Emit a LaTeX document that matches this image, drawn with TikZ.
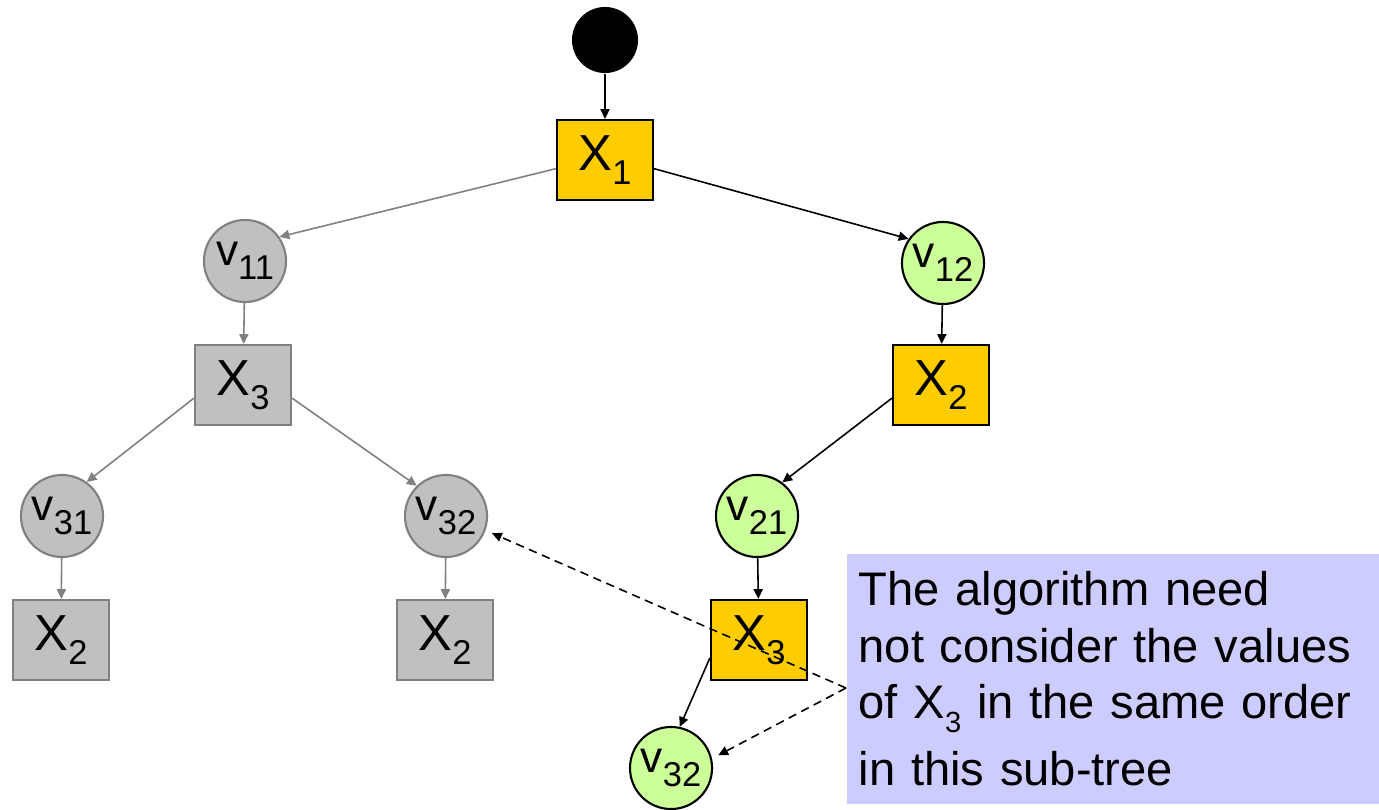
\documentclass[tikz,border=0pt]{standalone}
\usepackage{fontspec}
\setmainfont{Liberation Sans}
\usetikzlibrary{arrows.meta}

\definecolor{gold}{HTML}{FFCC00}
\definecolor{lgray}{HTML}{C0C0C0}
\definecolor{dgray}{HTML}{808080}
\definecolor{lgreen}{HTML}{CCFF99}
\definecolor{lavender}{HTML}{CCCCFF}

% lowered index, as in X_1 or v_11
\newcommand{\lowsub}[1]{\raisebox{-3.9pt}{\fontsize{9.8}{9.8}\selectfont #1}}
% smaller index inside running text
\newcommand{\textlowsub}[1]{\raisebox{-3.9pt}{\fontsize{8.3}{8.3}\selectfont #1}}

\begin{document}
\begin{tikzpicture}[x=0.01cm, y=-0.01cm,
    every node/.style={font=\fontsize{13.4}{16}\selectfont},
    varbox/.style={draw, rectangle, minimum width=0.96cm, minimum height=0.80cm, inner sep=0pt, line width=0.6pt,
        font=\fontsize{14.4}{16}\selectfont},
    valnode/.style={draw, circle, minimum size=0.82cm, inner sep=0pt, line width=0.6pt, font=\fontsize{12.6}{14}\selectfont},
    active/.style={fill=gold, draw=black},
    pruned/.style={fill=lgray, draw=dgray},
    chosen/.style={fill=lgreen, draw=black},
    link/.style={-{Triangle[length=2.8pt,width=2.6pt]}, line width=0.45pt, black},
    greylink/.style={link, dgray},
    hint/.style={link, dash pattern=on 2.4pt off 1.6pt, shorten >=2pt},
    note/.style={fill=lavender, anchor=north west, align=left, text width=5.09cm,
        inner xsep=0.12cm, minimum height=2.5cm}
]

    \useasboundingbox (0,0) rectangle (1379,809);

    % Root
    \node[circle, fill=black, minimum size=0.66cm, inner sep=0pt] (root) at (605,40) {};
    \node[varbox, active] (X1) at (605,160) {X\lowsub{1}};

    % Left sub-tree (grey)
    \node[valnode, pruned] (v11)  at (245,261) {v\lowsub{11}};
    \node[varbox, pruned]  (X3l)  at (243,385) {X\lowsub{3}};
    \node[valnode, pruned] (v31)  at (62,516)  {v\lowsub{31}};
    \node[valnode, pruned] (v32l) at (446,516) {v\lowsub{32}};
    \node[varbox, pruned]  (X2a)  at (61,640)  {X\lowsub{2}};
    \node[varbox, pruned]  (X2b)  at (445,640) {X\lowsub{2}};

    % Right sub-tree
    \node[valnode, chosen] (v12)  at (943,263) {v\lowsub{12}};
    \node[varbox, active]  (X2)   at (941,385) {X\lowsub{2}};
    \node[valnode, chosen] (v21)  at (757,516) {v\lowsub{21}};
    \node[varbox, active]  (X3r)  at (759,640) {X\lowsub{3}};
    \node[valnode, chosen] (v32r) at (671,768) {v\lowsub{32}};

    % Edges
    \draw[link]     (root) -- (X1);
    \draw[greylink] (X1.190) -- (v11.35);
    \draw[link]     (X1.-10) -- (v12.145);
    \draw[greylink] (v11) -- (X3l);
    \draw[greylink] (X3l.195) -- (v31.54);
    \draw[greylink] (X3l.-15) -- (v32l.134);
    \draw[greylink] (v31) -- (X2a);
    \draw[greylink] (v32l) -- (X2b);
    \draw[link]     (v12) -- (X2);
    \draw[link]     (X2.195) -- (v21.53);
    \draw[link]     (v21) -- (X3r);
    \draw[link]     (X3r.200) -- (v32r.78);

    % Comment box
    \node[note] (note) at (846,553) {The algorithm need\\not consider the values\\of X\textlowsub{3} in the same order\\[3pt]in this sub-tree};
    \coordinate (tip) at (846,688);

    \draw[hint] (tip) -- (v32l.-20);
    \draw[hint] (tip) -- (v32r.13);

\end{tikzpicture}
\end{document}
